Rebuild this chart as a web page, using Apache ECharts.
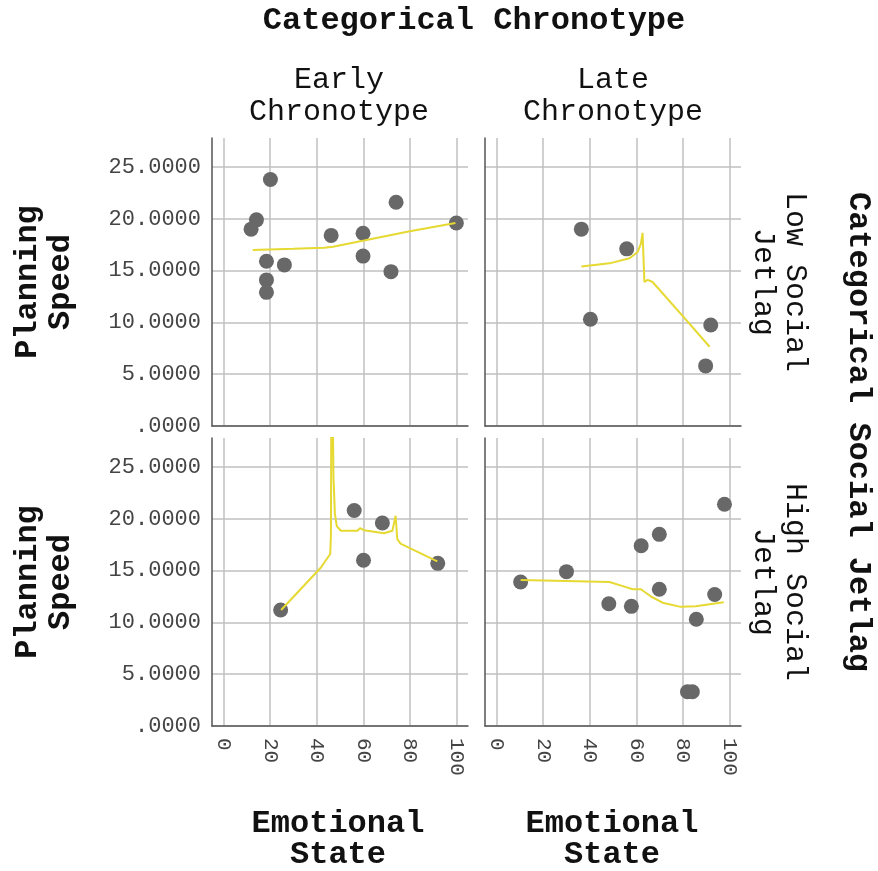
<!DOCTYPE html>
<html>
<head>
<meta charset="utf-8">
<script src="https://cdn.jsdelivr.net/npm/echarts@6/dist/echarts.min.js"></script>
<style>
  html, body { margin: 0; padding: 0; background: #fff; }
  #chart { width: 878px; height: 871px; }
</style>
</head>
<body>
<div id="chart"></div>
<script>
// panel data: Emotional State (x) vs Planning Speed (y)
const earlyLowX = [20.1, 14.1, 11.8, 18.4, 26.1, 18.4, 18.4, 46.2, 59.9, 59.9, 74.1, 71.9, 100];
const earlyLowY = [23.8, 19.9, 19.0, 15.9, 15.55, 14.1, 12.9, 18.4, 18.6, 16.4, 21.6, 14.9, 19.6];
const lateLowX = [36.4, 55.9, 40.3, 92.0, 89.8];
const lateLowY = [19.0, 17.1, 10.3, 9.75, 5.8];
const earlyHighX = [24.5, 56.1, 68.2, 60.1, 92.0];
const earlyHighY = [11.2, 20.8, 19.6, 16.0, 15.7];
const lateHighX = [10.3, 30.0, 48.2, 57.9, 62.1, 69.9, 69.9, 93.7, 85.8, 82.0, 84.1, 97.9];
const lateHighY = [13.9, 14.9, 11.8, 11.55, 17.4, 18.5, 13.2, 12.7, 10.3, 3.3, 3.3, 21.4];

// fit lines
const earlyLowFitX = [12.5, 30, 43.2, 47, 60.3, 80, 99.6];
const earlyLowFitY = [17.0, 17.1, 17.2, 17.3, 17.9, 18.8, 19.6];
const lateLowFitX = [36.4, 48.5, 57.1, 60.6, 62.0, 62.7, 63.5, 64.9, 67.0, 80, 91.5];
const lateLowFitY = [15.4, 15.7, 16.2, 16.8, 17.6, 18.65, 13.9, 14.1, 13.9, 10.6, 7.65];
const earlyHighFitX = [24.7, 41.8, 45.8, 46.1, 46.4, 47.2, 47.8, 48.6, 50.4, 57.5, 58.6, 60.3, 68.9, 72.5, 73.9, 74.6, 76.0, 91.8];
const earlyHighFitY = [11.2, 15.3, 16.6, 18.4, 40, 24, 20.5, 19.3, 18.85, 18.85, 19.1, 18.9, 18.6, 18.85, 20.3, 18.05, 17.6, 15.9];
const lateHighFitX = [10.3, 30, 48.5, 54.2, 58.5, 62.0, 66.3, 71.3, 79.1, 85.6, 97.6];
const lateHighFitY = [14.1, 14.0, 13.9, 13.5, 13.2, 13.2, 12.5, 11.9, 11.5, 11.55, 11.95];

const colLabels = ['Early\nChronotype', 'Late\nChronotype'];
const rowLabels = ['Low Social\nJetlag', 'High Social\nJetlag'];

const pointColor = '#686868';
const fitColor = '#e5d932';
const mono = '"Liberation Mono", "Courier New", monospace';

const grids = [
  { left: 212, top: 138, width: 256, height: 288 },
  { left: 485, top: 138, width: 256, height: 288 },
  { left: 212, top: 438, width: 256, height: 288 },
  { left: 485, top: 438, width: 256, height: 288 }
];

const pairs = (xs, ys) => xs.map((x, i) => [x, ys[i]]);

const makeX = (i, showLabel) => ({
  type: 'value',
  gridIndex: i,
  min: -5,
  max: 105,
  splitNumber: 5,
  axisLine: { onZero: false, lineStyle: { color: '#555', width: 1.5 } },
  axisTick: { show: false },
  axisLabel: {
    show: showLabel,
    rotate: -90,
    margin: 12,
    showMinLabel: false,
    showMaxLabel: false,
    fontFamily: mono,
    fontSize: 21,
    color: '#444',
    formatter: v => (v % 20 === 0 ? String(v) : '')
  },
  splitLine: { show: true, showMinLine: false, showMaxLine: false, lineStyle: { color: '#c0c0c0', width: 1.5 } }
})

const makeY = (i, showLabel) => ({
  type: 'value',
  gridIndex: i,
  min: 0,
  max: 27.8,
  interval: 5,
  axisLine: { show: true, onZero: false, lineStyle: { color: '#555', width: 1.5 } },
  axisTick: { show: false },
  axisLabel: {
    show: showLabel,
    margin: 11,
    showMaxLabel: false,
    fontFamily: mono,
    fontSize: 22,
    color: '#444',
    formatter: v => (v % 5 !== 0 ? '' : v === 0 ? '.0000' : v.toFixed(4))
  },
  splitLine: { show: true, showMaxLine: false, lineStyle: { color: '#c0c0c0', width: 1.5 } }
})

const panels = [
  [earlyLowX, earlyLowY, earlyLowFitX, earlyLowFitY],
  [lateLowX, lateLowY, lateLowFitX, lateLowFitY],
  [earlyHighX, earlyHighY, earlyHighFitX, earlyHighFitY],
  [lateHighX, lateHighY, lateHighFitX, lateHighFitY]
];

const series = [];
panels.forEach((p, i) => {
  series.push({
    type: 'scatter',
    xAxisIndex: i,
    yAxisIndex: i,
    data: pairs(p[0], p[1]),
    symbolSize: 15,
    itemStyle: { color: pointColor, opacity: 1 },
    z: 2
  });
  series.push({
    type: 'line',
    xAxisIndex: i,
    yAxisIndex: i,
    data: pairs(p[2], p[3]),
    showSymbol: false,
    clip: true,
    lineStyle: { color: fitColor, width: 2 },
    z: 3
  });
});

// text helper for titles / facet labels
const label = (text, x, y, rot, bold, size, lh) => ({
  type: 'text',
  x: x,
  y: y,
  rotation: rot,
  style: {
    text: text,
    font: (bold ? 'bold ' : '') + size + 'px ' + mono,
    fill: '#111',
    textAlign: 'center',
    textVerticalAlign: 'middle',
    lineHeight: lh
  }
})

const option = {
  animation: false,
  backgroundColor: '#fff',
  grid: grids,
  xAxis: [makeX(0, false), makeX(1, false), makeX(2, true), makeX(3, true)],
  yAxis: [makeY(0, true), makeY(1, false), makeY(2, true), makeY(3, false)],
  series: series,
  graphic: [
    label('Categorical Chronotype', 474, 21, 0, true, 32, 32),
    label(colLabels[0], 339, 96, 0, false, 30, 32),
    label(colLabels[1], 613, 96, 0, false, 30, 32),
    label('Planning\nSpeed', 44, 282, Math.PI / 2, true, 32, 33),
    label('Planning\nSpeed', 44, 582, Math.PI / 2, true, 32, 33),
    label(rowLabels[0], 779, 282, -Math.PI / 2, false, 30, 32),
    label(rowLabels[1], 779, 582, -Math.PI / 2, false, 30, 32),
    label('Categorical Social Jetlag', 858, 432, -Math.PI / 2, true, 32, 32),
    label('Emotional\nState', 338, 839, 0, true, 32, 31),
    label('Emotional\nState', 612, 839, 0, true, 32, 31)
  ]
};

const chart = echarts.init(document.getElementById('chart'), null, { renderer: 'canvas' });
chart.setOption(option);
</script>
</body>
</html>
